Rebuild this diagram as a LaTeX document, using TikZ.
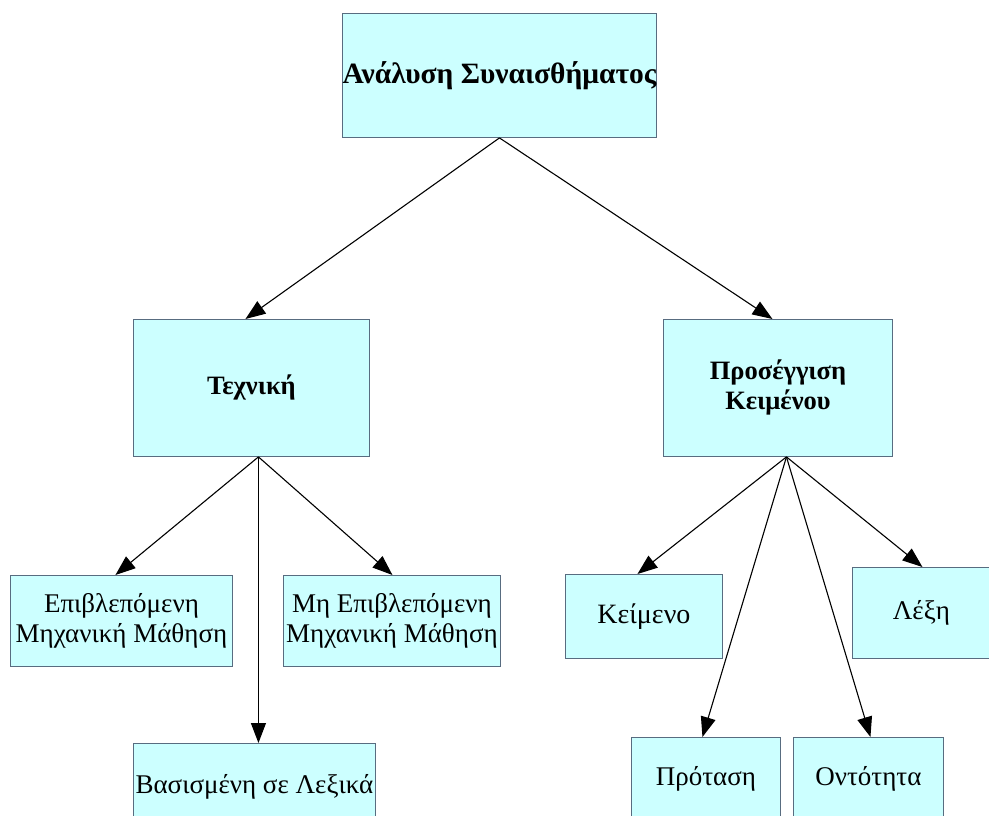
\documentclass[tikz,border=0pt]{standalone}
\usepackage{fontspec}
\setmainfont{Liberation Serif}
\usetikzlibrary{arrows.meta}
\definecolor{boxfill}{RGB}{204,255,255}
\definecolor{boxline}{RGB}{88,108,128}
\begin{document}
\begin{tikzpicture}[x=1pt,y=-1pt,
  box/.style={draw=boxline, fill=boxfill, line width=0.9pt, anchor=north west,
    inner sep=0pt, align=center, font=\fontsize{27}{30.5}\selectfont},
  headbox/.style={box, font=\fontsize{26.5}{30}\selectfont\bfseries},
  link/.style={draw=black, line width=1.1pt, -{Triangle[length=20pt,width=15pt]}}]
\clip (0,0) rectangle (989,816);
\fill[white] (0,0) rectangle (989,816);

% boxes
\node[headbox, minimum width=314pt, minimum height=124pt, font=\fontsize{29.5}{34}\selectfont\bfseries] (root) at (342,13) {Ανάλυση Συναισθήματος};
\node[headbox, minimum width=236pt, minimum height=137pt] (tech) at (133,319) {Τεχνική};
\node[headbox, minimum width=229pt, minimum height=137pt] (appr) at (663,319) {Προσέγγιση\\Κειμένου};

\node[box, minimum width=222pt, minimum height=91pt] (sup) at (10,575) {Επιβλεπόμενη\\Μηχανική Μάθηση};
\node[box, minimum width=217pt, minimum height=91pt] (unsup) at (283,575) {Μη Επιβλεπόμενη\\Μηχανική Μάθηση};
\node[box, minimum width=242pt, minimum height=86pt] (lex) at (133,743) {Βασισμένη σε Λεξικά};

\node[box, minimum width=157pt, minimum height=84pt, font=\fontsize{28}{32}\selectfont] (doc) at (565,574) {Κείμενο};
\node[box, minimum width=148pt, minimum height=91pt, text width=148pt] (word) at (852,567) {\hspace*{-10pt}Λέξη};
\node[box, minimum width=149pt, minimum height=82pt] (sent) at (631,737) {Πρόταση};
\node[box, minimum width=150pt, minimum height=82pt] (ent) at (793,737) {Οντότητα};

% connectors
\draw[link] (root.south) -- ([xshift=-6pt]tech.north);
\draw[link] (root.south) -- ([xshift=-5.5pt]appr.north);

\coordinate (tb) at ([xshift=7pt]tech.south);
\draw[link] (tb) -- ([xshift=-6pt]sup.north);
\draw[link] (tb) -- ([xshift=0.5pt]unsup.north);
\draw[link] (tb) -- (tb |- lex.north);

\coordinate (ab) at ([xshift=8.5pt]appr.south);
\draw[link] (ab) -- ([xshift=-6.5pt]doc.north);
\draw[link] (ab) -- ([xshift=-3.5pt]sent.north);
\draw[link] (ab) -- ([xshift=2pt]ent.north);
\draw[link] (ab) -- ([xshift=-4pt]word.north);
\end{tikzpicture}
\end{document}
